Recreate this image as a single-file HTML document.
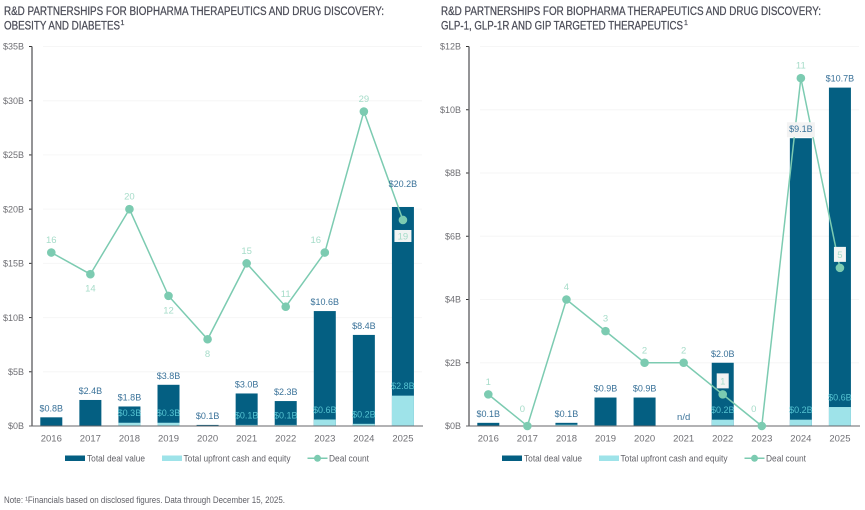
<!DOCTYPE html>
<html lang="en">
<head>
<meta charset="utf-8">
<title>R&amp;D partnerships charts</title>
<style>
html,body{margin:0;padding:0;background:#fff;width:865px;height:510px;overflow:hidden}
svg{display:block}
text{font-family:"Liberation Sans",sans-serif}
.heavy text{stroke:#4b4c57;stroke-width:.25}
</style>
</head>
<body>
<svg id="stage" width="865" height="510" viewBox="0 0 865 510" xmlns="http://www.w3.org/2000/svg">
  <g class="heavy" fill="#4b4c57" font-size="11.5">
    <text x="4" y="15" textLength="380" lengthAdjust="spacingAndGlyphs">R&amp;D PARTNERSHIPS FOR BIOPHARMA THERAPEUTICS AND DRUG DISCOVERY:</text>
    <text x="4" y="29.5" textLength="116" lengthAdjust="spacingAndGlyphs">OBESITY AND DIABETES</text>
    <text x="120.5" y="25" font-size="7">1</text>
  </g>
  <g class="heavy" fill="#4b4c57" font-size="11.5">
    <text x="441" y="15" textLength="380" lengthAdjust="spacingAndGlyphs">R&amp;D PARTNERSHIPS FOR BIOPHARMA THERAPEUTICS AND DRUG DISCOVERY:</text>
    <text x="441" y="29.5" textLength="242" lengthAdjust="spacingAndGlyphs">GLP-1, GLP-1R AND GIP TARGETED THERAPEUTICS</text>
    <text x="684" y="25" font-size="7">1</text>
  </g>
  <text x="4" y="503" font-size="9" fill="#5f5f66" textLength="281" lengthAdjust="spacingAndGlyphs">Note: ¹Financials based on disclosed figures. Data through December 15, 2025.</text>
</svg>
<script>
var years = [2016, 2017, 2018, 2019, 2020, 2021, 2022, 2023, 2024, 2025];

var leftTicks = [0, 5, 10, 15, 20, 25, 30, 35];
var leftTotals = [0.8, 2.4, 1.8, 3.8, 0.1, 3.0, 2.3, 10.6, 8.4, 20.2];
var leftUpfront = [0, 0, 0.3, 0.3, 0, 0.1, 0.1, 0.6, 0.2, 2.8];
var leftCounts = [16, 14, 20, 12, 8, 15, 11, 16, 29, 19];
var leftCountSides = ['above', 'below', 'above', 'below', 'below', 'above', 'above', 'above-left', 'above', 'below'];
var leftBoxedTotalYears = [];
var leftRaisedTotalYears = [2025];

var rightTicks = [0, 2, 4, 6, 8, 10, 12];
var rightTotals = [0.1, null, 0.1, 0.9, 0.9, null, 2.0, null, 9.1, 10.7];
var rightUpfront = [0, 0, 0.04, 0.02, 0, 0, 0.2, 0, 0.2, 0.6];
var rightCounts = [1, 0, 4, 3, 2, 2, 1, 0, 11, 5];
var rightCountSides = ['above', 'above', 'above', 'above', 'above', 'above', 'above', 'above', 'above', 'above'];
var rightBoxedTotalYears = [2024];
var rightRaisedTotalYears = [];
var rightMissingLabels = ['', '', '', '', '', 'n/d', '', '', '', ''];

var SVGNS = 'http://www.w3.org/2000/svg';
var stage = document.getElementById('stage');

function make(tag, attrs, parent, txt) {
  var el = document.createElementNS(SVGNS, tag);
  for (var k in attrs) { el.setAttribute(k, attrs[k]); }
  if (txt !== undefined) { el.textContent = txt; }
  parent.appendChild(el);
  return el;
}

function drawChart(prefix, axisX, firstX, ticks, totals, upfront, counts, sides, boxedYears, raisedYears, missing) {
  var y0 = 426, yTop = 46.5, step = 39.07, barW = 22;
  var yMax = ticks[ticks.length - 1];
  function yScale(v) { return y0 - (v / yMax) * (y0 - yTop); }
  function xScale(i) { return firstX + i * step; }
  function money(v) { return '$' + v.toFixed(1) + 'B'; }

  var root = make('g', {}, stage);
  
  

  // gridlines, ticks, tick labels
  ticks.forEach(function (t) {
    var y = yScale(t);
    if (t > 0) {
      var grid = make('line', {x1: axisX + 11, x2: axisX + 390, y1: y, y2: y, stroke: '#f6f6f6', 'stroke-width': 1}, root);
      
      
    }
    var tick = make('line', {x1: axisX - 3, x2: axisX, y1: y, y2: y, stroke: '#333', 'stroke-width': 1}, root);
    
    
    var lab = make('text', {x: axisX - 8, y: y + 3.2, 'text-anchor': 'end', 'font-size': 9, fill: '#6f6f74'}, root, '$' + t + 'B');
    
    
  });

  // bars
  years.forEach(function (yr, i) {
    var x = xScale(i) - barW / 2;
    if (totals[i] !== null) {
      var bar = make('rect', {x: x, y: yScale(totals[i]), width: barW, height: y0 - yScale(totals[i]), fill: '#045f82'}, root);
      
      
    }
    if (upfront[i] > 0) {
      var up = make('rect', {x: x, y: yScale(upfront[i]), width: barW, height: y0 - yScale(upfront[i]), fill: '#9ee3e9'}, root);
      
      
    }
  });

  // axes
  var yAxis = make('line', {x1: axisX, x2: axisX, y1: yTop, y2: y0, stroke: '#66666a', 'stroke-width': 1.4}, root);
  
  
  var xAxis = make('line', {x1: axisX - 3, x2: axisX + 391, y1: y0, y2: y0, stroke: '#66666a', 'stroke-width': 1}, root);
  
  

  years.forEach(function (yr, i) {
    var lab = make('text', {x: xScale(i), y: 441.5, 'text-anchor': 'middle', 'font-size': 9.5, fill: '#6f6f74'}, root, String(yr));
    
    
  });

  // count line
  var pts = counts.map(function (c, i) { return xScale(i) + ',' + yScale(c); }).join(' ');
  var line = make('polyline', {points: pts, fill: 'none', stroke: '#7ccbb1', 'stroke-width': 1.5}, root);
  
  
  counts.forEach(function (c, i) {
    var dot = make('circle', {cx: xScale(i), cy: yScale(c), r: 4.3, fill: '#7ccbb1'}, root);
    
    
  });

  // value labels
  years.forEach(function (yr, i) {
    var x = xScale(i);
    if (upfront[i] >= 0.05) {
      var ul = make('text', {x: x, y: yScale(upfront[i]) - 6.5, 'text-anchor': 'middle', 'font-size': 9, fill: '#55c3d1'}, root, money(upfront[i]));
      
      
    }
    if (totals[i] !== null) {
      var ty = yScale(totals[i]) - 6;
      if (raisedYears.indexOf(yr) >= 0) { ty -= 14; }
      if (boxedYears.indexOf(yr) >= 0) {
        var tb = make('rect', {x: x - 14, y: ty - 10, width: 28, height: 15, fill: '#f3f3f3'}, root);
        
        
      }
      var tl = make('text', {x: x, y: ty, 'text-anchor': 'middle', 'font-size': 9, fill: '#3a7299'}, root, money(totals[i]));
      
      
    } else if (missing && missing[i]) {
      var nd = make('text', {x: x, y: y0 - 6, 'text-anchor': 'middle', 'font-size': 9.5, fill: '#3a7299'}, root, missing[i]);
      
      
    }

    var c = counts[i], cy = yScale(c), cx = x;
    var inBar = totals[i] !== null && c > 0 && c < totals[i];
    var ly;
    if (c === 0) {
      cx = x - (i === 1 ? 5 : 8);
      ly = cy - 14;
    } else if (inBar) {
      ly = sides[i] === 'below' ? cy + 19.5 : cy - 10;
    } else if (sides[i] === 'above-left') {
      cx = x - 9;
      ly = cy - 9.5;
    } else {
      ly = sides[i] === 'below' ? cy + 17.5 : cy - 9.5;
    }
    if (inBar) {
      var boxW = c >= 10 ? 17 : 12;
      var boxH = c >= 10 ? 12 : 15;
      var box = make('rect', {x: cx - boxW / 2, y: ly - 3.5 - boxH / 2, width: boxW, height: boxH, fill: '#f2f4f3'}, root);
      
      
    }
    var cl = make('text', {x: cx, y: ly, 'text-anchor': 'middle', 'font-size': 9.5, fill: '#a6dcc9'}, root, String(c));
    
    
  });

  // legend
  var lx = axisX + 33, ly2 = 458;
  var legend = make('g', {}, root);
  
  

  var e1 = make('g', {}, legend);
  
  
  make('rect', {x: lx, y: ly2 - 2.5, width: 20, height: 5.5, fill: '#045f82'}, e1);
  make('text', {x: lx + 22, y: ly2 + 3.3, 'font-size': 9, fill: '#626268', textLength: 58, lengthAdjust: 'spacingAndGlyphs'}, e1, 'Total deal value');

  var e2 = make('g', {}, legend);
  
  
  make('rect', {x: lx + 97, y: ly2 - 2.5, width: 20, height: 5.5, fill: '#9ee3e9'}, e2);
  make('text', {x: lx + 118.5, y: ly2 + 3.3, 'font-size': 9, fill: '#626268', textLength: 107, lengthAdjust: 'spacingAndGlyphs'}, e2, 'Total upfront cash and equity');

  var e3 = make('g', {}, legend);
  
  
  make('line', {x1: lx + 242.5, x2: lx + 262.5, y1: ly2 + 0.3, y2: ly2 + 0.3, stroke: '#7ccbb1', 'stroke-width': 1.5}, e3);
  make('circle', {cx: lx + 252.5, cy: ly2 + 0.3, r: 3.5, fill: '#7ccbb1'}, e3);
  make('text', {x: lx + 264, y: ly2 + 3.3, 'font-size': 9, fill: '#626268', textLength: 40, lengthAdjust: 'spacingAndGlyphs'}, e3, 'Deal count');
}

drawChart('left', 32, 51.3, leftTicks, leftTotals, leftUpfront, leftCounts, leftCountSides, leftBoxedTotalYears, leftRaisedTotalYears, null);
drawChart('right', 469, 488.3, rightTicks, rightTotals, rightUpfront, rightCounts, rightCountSides, rightBoxedTotalYears, rightRaisedTotalYears, rightMissingLabels);
</script>
</body>
</html>
